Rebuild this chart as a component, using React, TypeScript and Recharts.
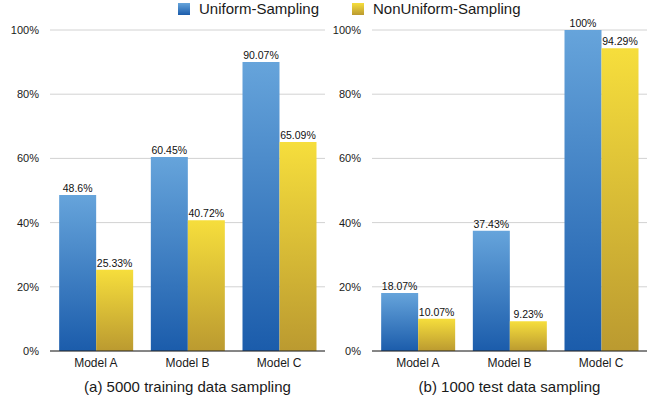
import React from 'react';
import { BarChart, Bar, XAxis, YAxis, CartesianGrid, LabelList } from 'recharts';

const models = ['Model A', 'Model B', 'Model C'];
const trainUniform = [48.6, 60.45, 90.07];
const trainNonUniform = [25.33, 40.72, 65.09];
const testUniform = [18.07, 37.43, 100];
const testNonUniform = [10.07, 9.23, 94.29];
const yTicks = [0, 20, 40, 60, 80, 100];

const FONT = '"Liberation Sans", Arial, Helvetica, sans-serif';

const trainData = models.map((m, i) => ({ model: m, uniform: trainUniform[i], nonUniform: trainNonUniform[i] }));
const testData = models.map((m, i) => ({ model: m, uniform: testUniform[i], nonUniform: testNonUniform[i] }));

const pct = (v: any) => `${v}%`;

function Panel({ data, id }: { data: any[]; id: string }) {
  return (
    <BarChart
      width={330}
      height={400}
      data={data}
      margin={{ top: 30, right: 5, left: 0, bottom: 19 }}
      barCategoryGap="10%"
      barGap={0}
      style={{ fontFamily: FONT }}
    >
      <defs>
        <linearGradient id={`blue-${id}`} x1="0" y1="0" x2="0" y2="1">
          <stop offset="0%" stopColor="#66a4db" />
          <stop offset="100%" stopColor="#1b5cab" />
        </linearGradient>
        <linearGradient id={`yellow-${id}`} x1="0" y1="0" x2="0" y2="1">
          <stop offset="0%" stopColor="#f6de3c" />
          <stop offset="100%" stopColor="#bb9a30" />
        </linearGradient>
      </defs>
      <CartesianGrid vertical={false} stroke="#d2d2d2" />
      <XAxis
        dataKey="model"
        height={30}
        tickLine={false}
        axisLine={{ stroke: '#222' }}
        tickMargin={1}
        tick={{ fontSize: 12, fill: '#1a1a1a' }}
      />
      <YAxis
        width={50}
        domain={[0, 100]}
        ticks={yTicks}
        tickFormatter={pct}
        tickLine={false}
        axisLine={false}
        tickMargin={5}
        tick={{ fontSize: 11, fill: '#1a1a1a' }}
      />
      <Bar dataKey="uniform" fill={`url(#blue-${id})`} isAnimationActive={false}>
        <LabelList dataKey="uniform" position="top" formatter={pct} fontSize={10.5} fill="#111" offset={3} />
      </Bar>
      <Bar dataKey="nonUniform" fill={`url(#yellow-${id})`} isAnimationActive={false}>
        <LabelList dataKey="nonUniform" position="top" formatter={pct} fontSize={10.5} fill="#111" offset={3} />
      </Bar>
    </BarChart>
  );
}

export default function App() {
  return (
    <div style={{ position: 'absolute', left: 0, top: 0, width: 653, height: 400, background: '#fff', fontFamily: FONT }}>
      <div style={{ position: 'absolute', left: 0, top: 0 }}>
        <Panel data={trainData} id="a" />
      </div>
      <div style={{ position: 'absolute', left: 322, top: 0 }}>
        <Panel data={testData} id="b" />
      </div>
      {/* legend */}
      <div style={{ position: 'absolute', left: 178, top: 3, width: 12, height: 12, background: 'linear-gradient(#66a4db, #1b5cab)' }} />
      <div style={{ position: 'absolute', left: 199, top: 0, fontSize: 15, lineHeight: '18px', color: '#1a1a1a' }}>Uniform-Sampling</div>
      <div style={{ position: 'absolute', left: 352, top: 3, width: 12, height: 12, background: 'linear-gradient(#f6de3c, #bb9a30)' }} />
      <div style={{ position: 'absolute', left: 373, top: 0, fontSize: 15, lineHeight: '18px', color: '#1a1a1a' }}>NonUniform-Sampling</div>
      {/* captions */}
      <div style={{ position: 'absolute', left: 50, width: 275, top: 377, textAlign: 'center', fontSize: 15, lineHeight: '20px', color: '#1a1a1a' }}>
        (a) 5000 training data sampling
      </div>
      <div style={{ position: 'absolute', left: 372, width: 275, top: 377, textAlign: 'center', fontSize: 15, lineHeight: '20px', color: '#1a1a1a' }}>
        (b) 1000 test data sampling
      </div>
    </div>
  );
}
